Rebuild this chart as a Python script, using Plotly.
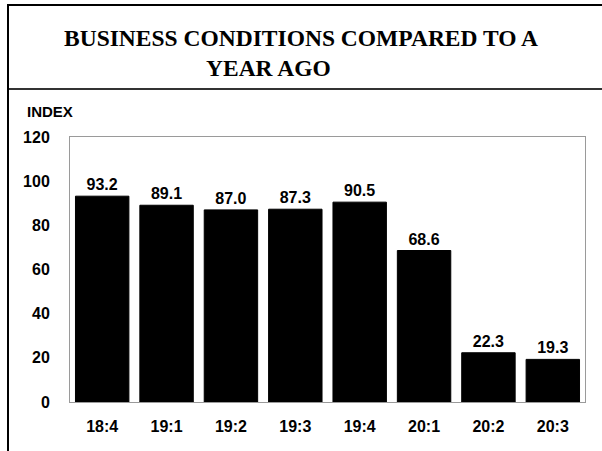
import plotly.graph_objects as go

categories = ["18:4", "19:1", "19:2", "19:3", "19:4", "20:1", "20:2", "20:3"]
values = [93.2, 89.1, 87.0, 87.3, 90.5, 68.6, 22.3, 19.3]
y_ticks = [0, 20, 40, 60, 80, 100, 120]
title_lines = ["BUSINESS CONDITIONS COMPARED TO A", "YEAR AGO"]
y_label = "INDEX"

W, H = 602, 451
L, R, T, B = 70, 17, 137, 49


def px(xp):
    return (xp - L) / (W - L - R)


def py(yp):
    return (H - B - yp) / (H - T - B)


fig = go.Figure(go.Bar(
    x=categories, y=values,
    marker=dict(color="black", line=dict(color="black", width=1)),
    text=values, texttemplate="%{y:.1f}", textposition="outside",
    textfont=dict(family="Liberation Sans, Arial", size=16, color="black", weight="bold"),
    cliponaxis=False,
))

fig.update_layout(
    width=W, height=H,
    margin=dict(l=L, r=R, t=T, b=B, pad=0),
    paper_bgcolor="white", plot_bgcolor="white",
    bargap=0.17,
    showlegend=False,
    font=dict(family="Liberation Sans, Arial", color="black"),
    xaxis=dict(
        showgrid=False, zeroline=False,
        showline=True, mirror=True, linecolor="#9a9a9a", linewidth=1,
        ticks="", ticklabelstandoff=10,
        tickfont=dict(family="Liberation Sans, Arial", size=16, color="black", weight="bold"),
    ),
    yaxis=dict(
        range=[0, 120], tickvals=y_ticks,
        showgrid=False, zeroline=False,
        showline=True, mirror=True, linecolor="#9a9a9a", linewidth=1,
        ticks="", ticklabelstandoff=16,
        tickfont=dict(family="Liberation Sans, Arial", size=16, color="black", weight="bold"),
    ),
)

# Title lines
title_x = [301, 268]
title_y = [38, 68]
for i, line in enumerate(title_lines):
    fig.add_annotation(
        text=line, xref="paper", yref="paper",
        x=px(title_x[i]), y=py(title_y[i]),
        xanchor="center", yanchor="middle", showarrow=False,
        font=dict(family="Liberation Serif, Times New Roman", size=23.5, color="black", weight="bold"),
    )

# Axis unit label
fig.add_annotation(
    text=y_label, xref="paper", yref="paper",
    x=px(25), y=py(111),
    xanchor="left", yanchor="middle", showarrow=False,
    font=dict(family="Liberation Sans, Arial", size=15, color="black", weight="bold"),
)

# Frame lines
fig.add_shape(type="line", xref="paper", yref="paper", x0=px(8), x1=px(602), y0=py(5), y1=py(5),
              line=dict(color="black", width=2))
fig.add_shape(type="line", xref="paper", yref="paper", x0=px(8), x1=px(602), y0=py(89), y1=py(89),
              line=dict(color="#333333", width=2))
fig.add_shape(type="line", xref="paper", yref="paper", x0=px(8), x1=px(8), y0=py(4), y1=py(451),
              line=dict(color="black", width=2))

fig.write_html("out.html", config={"displayModeBar": False},
               post_script="document.body.style.margin='0';")
